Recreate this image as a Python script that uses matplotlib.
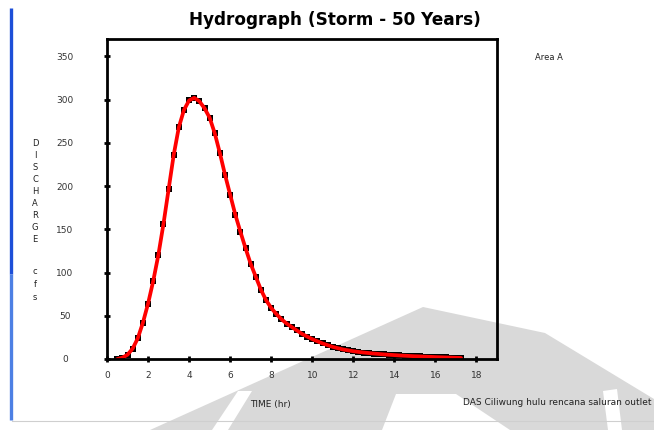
import numpy as np
import matplotlib
matplotlib.use("Agg")
import matplotlib.pyplot as plt
from matplotlib.patches import Polygon
from matplotlib.transforms import blended_transform_factory

# hydrograph values (time in hr, discharge in cfs)
time_hr = [0.50, 0.75, 1.00, 1.25, 1.50, 1.75, 2.00, 2.25, 2.50, 2.75,
           3.00, 3.25, 3.50, 3.75, 4.00, 4.25, 4.50, 4.75, 5.00, 5.25,
           5.50, 5.75, 6.00, 6.25, 6.50, 6.75, 7.00, 7.25, 7.50, 7.75,
           8.00, 8.25, 8.50, 8.75, 9.00, 9.25, 9.50, 9.75, 10.00, 10.25,
           10.50, 10.75, 11.00, 11.25, 11.50, 11.75, 12.00, 12.25, 12.50, 12.75,
           13.00, 13.25, 13.50, 13.75, 14.00, 14.25, 14.50, 14.75, 15.00, 15.25,
           15.50, 15.75, 16.00, 16.25, 16.50, 16.75, 17.00, 17.25]
discharge = [0, 1.5, 5, 12, 24, 42, 64, 90, 120, 156,
             196, 236, 268, 288, 299, 302, 298, 290, 279, 261,
             238, 213, 190, 167, 147, 128, 110, 95, 80, 68,
             59, 52, 46, 41, 37, 33, 29, 26, 23, 20.5,
             18, 16, 14, 12.5, 11, 10, 9, 8.2, 7.5, 6.9,
             6.3, 5.8, 5.3, 4.9, 4.5, 4.1, 3.8, 3.5, 3.2, 3.0,
             2.7, 2.5, 2.2, 2.0, 1.8, 1.6, 1.4, 1.2]

xticks = [0, 2, 4, 6, 8, 10, 12, 14, 16, 18]
yticks = [0, 50, 100, 150, 200, 250, 300, 350]

W, H = 654, 431
fig = plt.figure(figsize=(W / 100, H / 100), dpi=100)

# background layer in pixel coords: page bar + faded watermark
bg = fig.add_axes([0, 0, 1, 1], zorder=0)
bg.set_xlim(0, W); bg.set_ylim(H, 0); bg.axis("off")
wm = "#d9d9d9"
bg.add_patch(Polygon([(150, 431), (423, 308), (545, 334), (654, 400), (654, 431)],
                     closed=True, fc=wm, ec="none"))
for pts in ([(212, 431), (238, 392), (252, 392), (228, 431)],
            [(382, 431), (396, 395), (456, 395), (510, 431)],
            [(603, 392), (617, 390), (622, 431), (608, 431)]):
    bg.add_patch(Polygon(pts, closed=True, fc="white", ec="none"))
bg.plot([10.5, 10.5], [9, 275], color="#1d4fd8", lw=2.4, solid_capstyle="butt")
bg.plot([10.5, 10.5], [275, 421], color="#4d80e4", lw=2.4, solid_capstyle="butt")
bg.plot([12, W], [422, 422], color="#cfcfcf", lw=0.8)

ax = fig.add_axes([107 / W, (H - 360) / H, 390 / W, 320 / H], zorder=1)
ax.patch.set_alpha(0)
ax.plot(time_hr, discharge, "s", color="black", ms=3.8, mew=0)
ax.plot(time_hr, discharge, "-", color="#ff0000", lw=2.7, solid_capstyle="round")

ax.set_xlim(0, 19)
ax.set_ylim(0, 370)
for s in ax.spines.values():
    s.set_linewidth(2.0)
ax.set_xticks(xticks)
ax.set_yticks(yticks)
ax.tick_params(direction="inout", length=5, width=2, labelleft=False, labelbottom=False)

ty = blended_transform_factory(fig.transFigure, ax.transData)
for v in yticks:
    ax.text(65 / W, v, str(v), transform=ty, ha="center", va="center",
            fontsize=6.5, color="#333333")
tx = blended_transform_factory(ax.transData, fig.transFigure)
for v in xticks:
    ax.text(v, 1 - 376 / H, str(v), transform=tx, ha="center", va="center",
            fontsize=6.5, color="#333333")

fig.text(335 / W, 1 - 20 / H, "Hydrograph (Storm - 50 Years)", ha="center", va="center",
         fontsize=12.2, fontweight="bold")
for i, ch in enumerate("DISCHARGE"):
    fig.text(35 / W, 1 - (143 + 12.1 * i) / H, ch, ha="center", va="center",
             fontsize=6, color="#222222")
for i, ch in enumerate("cfs"):
    fig.text(35 / W, 1 - (272 + 12.5 * i) / H, ch, ha="center", va="center",
             fontsize=6, color="#222222")
fig.text(270 / W, 1 - 405 / H, "TIME (hr)", ha="center", va="center",
         fontsize=6.5, color="#222222")
fig.text(535 / W, 1 - 58 / H, "Area A", ha="left", va="center",
         fontsize=6, color="#222222")
fig.text(463 / W, 1 - 403 / H, "DAS Ciliwung hulu rencana saluran outlet", ha="left",
         va="center", fontsize=6.5, color="#222222")

fig.savefig("out.png", dpi=100)
